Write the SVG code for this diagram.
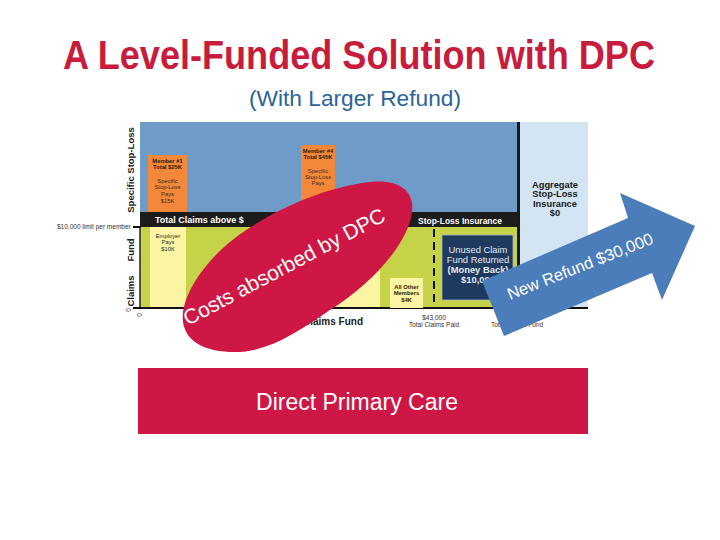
<svg xmlns="http://www.w3.org/2000/svg" width="720" height="540" viewBox="0 0 720 540">
<style>
  text { font-family: "Liberation Sans", Arial, sans-serif; }
  .tiny { font-size: 5.8px; fill: #3a2a1a; text-anchor: middle; }
  .tinyb { font-size: 5.8px; fill: #2a1a0a; text-anchor: middle; font-weight: bold; }
  .axis { font-size: 6.5px; fill: #333; }
  .band { font-size: 9px; font-weight: bold; fill: #ffffff; }
  .ylab { font-size: 9.5px; font-weight: bold; fill: #222; text-anchor: middle; }
  .agg { font-size: 9.3px; font-weight: bold; fill: #1a1a1a; text-anchor: middle; }
  .navy { font-size: 9.4px; fill: #e4e9f0; text-anchor: middle; }
</style>
<rect x="0" y="0" width="720" height="540" fill="#ffffff"/>

<g id="title">
  <text x="359" y="69" font-size="40" font-weight="bold" fill="#c81c3c" text-anchor="middle" textLength="592" lengthAdjust="spacingAndGlyphs">A Level-Funded Solution with DPC</text>
  <text x="355" y="106" font-size="22.5" fill="#2b6496" text-anchor="middle" textLength="212" lengthAdjust="spacingAndGlyphs">(With Larger Refund)</text>
</g>

<g id="chart">
  <rect x="140" y="122" width="377" height="90" fill="#6f9bc9"/>
  <rect x="520" y="122" width="68" height="186" fill="#d3e5f3"/>
  <rect x="517" y="122" width="3" height="186" fill="#1a1a1a"/>
  <rect x="140" y="212" width="377" height="15" fill="#1c1c1c"/>
  <text class="band" x="155" y="223">Total Claims above $</text>
  <text class="band" x="418" y="224" textLength="84" lengthAdjust="spacingAndGlyphs">Stop-Loss Insurance</text>
  <rect x="140" y="227" width="377" height="81" fill="#c6d247"/>
  <rect x="150" y="227" width="36" height="81" fill="#fbf4a3"/>
  <rect x="300" y="268" width="80" height="40" fill="#fbf4a3"/>
  <line x1="140" y1="227" x2="140" y2="308" stroke="#222" stroke-width="1.5"/>
  <line x1="133" y1="227" x2="141" y2="227" stroke="#111" stroke-width="2"/>
  <line x1="133" y1="308" x2="588" y2="308" stroke="#111" stroke-width="2"/>
  <line x1="434" y1="229" x2="434" y2="307" stroke="#111" stroke-width="2" stroke-dasharray="8,5"/>

  <g id="member1">
    <rect x="148" y="155" width="39" height="57" fill="#f3883a"/>
    <text class="tinyb" x="167.5" y="163">Member #1</text>
    <text class="tinyb" x="167.5" y="169">Total $25K</text>
    <text class="tiny" x="167.5" y="183">Specific</text>
    <text class="tiny" x="167.5" y="189">Stop-Loss</text>
    <text class="tiny" x="167.5" y="196">Pays</text>
    <text class="tiny" x="167.5" y="203">$15K</text>
  </g>
  <g id="member4">
    <rect x="301" y="145" width="34" height="67" fill="#f3883a"/>
    <text class="tinyb" x="318" y="153">Member #4</text>
    <text class="tinyb" x="318" y="159">Total $45K</text>
    <text class="tiny" x="318" y="173">Specific</text>
    <text class="tiny" x="318" y="179">Stop-Loss</text>
    <text class="tiny" x="318" y="185">Pays</text>
  </g>
  <g id="employer">
    <text class="tiny" x="168" y="238">Employer</text>
    <text class="tiny" x="168" y="244">Pays</text>
    <text class="tiny" x="168" y="251">$10K</text>
  </g>
  <g id="others">
    <rect x="390" y="278" width="33" height="30" fill="#fbf4a3"/>
    <text class="tinyb" x="406.5" y="289">All Other</text>
    <text class="tinyb" x="406.5" y="295">Members</text>
    <text class="tinyb" x="406.5" y="302">$4K</text>
  </g>
  <g id="unused">
    <rect x="442" y="235" width="71" height="65" fill="#1f3a5f" stroke="#aab4c0" stroke-width="0.8"/>
    <text class="navy" x="478" y="253">Unused Claim</text>
    <text class="navy" x="478" y="263">Fund Returned</text>
    <text class="navy" x="478" y="273" font-weight="bold" fill="#ffffff">(Money Back)</text>
    <text class="navy" x="478" y="283" font-weight="bold" fill="#ffffff">$10,000</text>
  </g>
  <g id="aggregate">
    <text class="agg" x="555" y="188">Aggregate</text>
    <text class="agg" x="555" y="197">Stop-Loss</text>
    <text class="agg" x="555" y="207">Insurance</text>
    <text class="agg" x="555" y="216">$0</text>
  </g>
  <g id="axes">
    <text class="ylab" transform="translate(134,170) rotate(-90)">Specific Stop-Loss</text>
    <text class="ylab" transform="translate(134,291) rotate(-90)">Claims</text>
    <text class="ylab" transform="translate(134,250) rotate(-90)">Fund</text>
    <text class="axis" x="57" y="229">$10,000 limit per member</text>
    <text class="axis" transform="translate(131,310) rotate(-90)" text-anchor="middle">0</text>
    <text class="axis" transform="translate(142,315) rotate(-90)" text-anchor="middle">0</text>
    <text x="303" y="325" font-size="10" font-weight="bold" fill="#222">Claims Fund</text>
    <text class="axis" x="434" y="320" text-anchor="middle">$43,000</text>
    <text class="axis" x="434" y="327" text-anchor="middle">Total Claims Paid</text>
    <text class="axis" x="517" y="327" text-anchor="middle">Total Claims Fund</text>
  </g>
</g>

<g id="blob">
  <path d="M183,322 C180,300 200,265 235,238 C270,212 320,188 370,182 C400,179 415,192 412,212 C408,245 370,285 330,310 C300,330 270,352 235,352 C205,352 186,342 183,322 Z" fill="#cf1745"/>
  <text x="188" y="326" font-size="21" fill="#ffffff" transform="rotate(-28 188 326)">Costs absorbed by DPC</text>
</g>

<g id="arrow">
  <polygon points="482,281 628,218 620,193 695,226 662,300 652,273 504,336" fill="#4b7dbb"/>
  <text x="510" y="300" font-size="16.5" fill="#ffffff" transform="rotate(-21.5 510 300)">New Refund $30,000</text>
</g>

<g id="dpc">
  <rect x="138" y="368" width="450" height="66" fill="#cf1745"/>
  <text x="357" y="410" font-size="23" fill="#ffffff" text-anchor="middle">Direct Primary Care</text>
</g>
</svg>
